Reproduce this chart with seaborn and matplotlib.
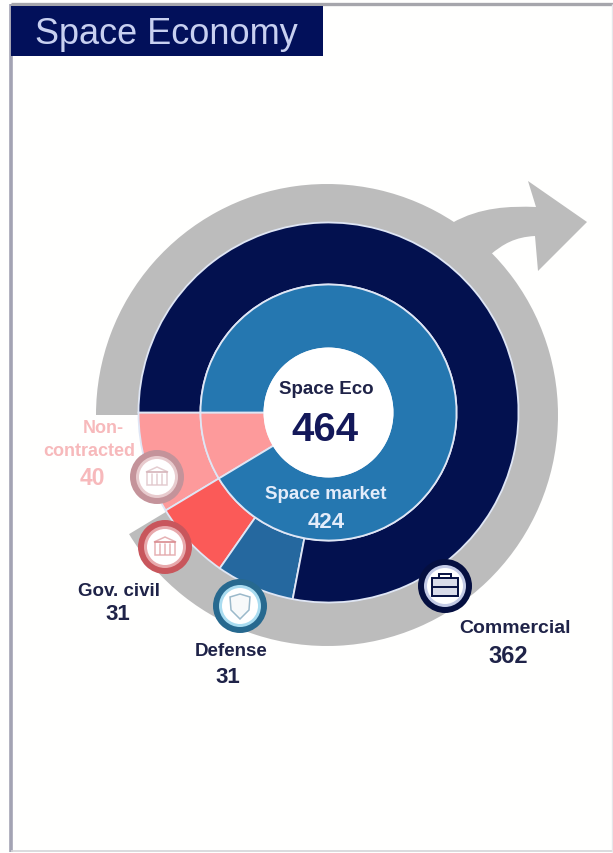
import matplotlib
matplotlib.use("Agg")
import matplotlib.pyplot as plt
import seaborn as sns
from matplotlib.patches import Circle, Polygon, PathPatch, Rectangle
from matplotlib.path import Path

sns.set_theme(style="white")
plt.rcParams["font.family"] = ["Liberation Sans", "DejaVu Sans"]

# Space economy breakdown
segments = ["Non-contracted", "Gov. civil", "Defense", "Commercial"]
segment_values = [40, 31, 31, 362]
market_names = ["Non-contracted", "Space market"]
market_values = [40, 424]
total_value = 464

PINK = "#fd9a9b"
RED = "#fb5a58"
STEEL = "#25689f"
BLUE = "#2577b0"
NAVY = "#03114f"
GREY = "#bcbcbc"
palette = sns.color_palette([PINK, RED, STEEL, NAVY])

W, H = 613, 854
fig = plt.figure(figsize=(W / 100, H / 100), dpi=100, facecolor="#fffffe")
ax = fig.add_axes([0, 0, 1, 1])
ax.set_axis_off()


def Y(py):
    return H - py


CX, CY = 328.5, Y(413.5)
edge = {"edgecolor": "#dfe6f5", "linewidth": 1.3}

# Frame around the panel
ax.plot([11, 11], [Y(5), Y(853)], color="#a3a3b3", lw=2.6, zorder=0, solid_capstyle="butt")
ax.plot([11, 613], [Y(5), Y(5)], color="#a6a6ac", lw=2.4, zorder=0, solid_capstyle="butt")
ax.plot([11, 613], [Y(852), Y(852)], color="#d4d4d8", lw=1.2, zorder=0, solid_capstyle="butt")
ax.plot([612, 612], [Y(5), Y(853)], color="#e6e6ea", lw=1.0, zorder=0, solid_capstyle="butt")
ax.add_patch(Rectangle((11, Y(57)), 312, 50, fc="#02105a", ec="none", zorder=1))
ax.text(166, Y(35), "Space Economy", color="#c8d0f0", fontsize=26, ha="center", va="center", zorder=2)

# Grey growth arc with its arrow, spanning the space market share
ax.pie(market_values, colors=["none", GREY], startangle=180, center=(327, Y(416)), radius=231,
       wedgeprops={"width": 44, "edgecolor": "none"}, frame=True)
shaft = Path(
    [(452, Y(224)), (480, Y(208)), (510, Y(207)), (536, Y(208)), (528, Y(182)), (587, Y(223)),
     (538, Y(272)), (535, Y(237)), (515, Y(238)), (503, Y(245)), (490, Y(256)), (452, Y(224))],
    [Path.MOVETO, Path.CURVE4, Path.CURVE4, Path.CURVE4, Path.LINETO, Path.LINETO,
     Path.LINETO, Path.LINETO, Path.CURVE4, Path.CURVE4, Path.CURVE4, Path.CLOSEPOLY],
)
ax.add_patch(PathPatch(shaft, fc=GREY, ec="none"))

# Outer segment ring
ax.pie(segment_values, colors=palette, startangle=180, center=(CX, CY), radius=190,
       wedgeprops={"width": 62, **edge}, frame=True)
# Inner market ring
ax.pie(market_values, colors=[PINK, BLUE], startangle=180, center=(CX, CY), radius=128,
       wedgeprops={"width": 64, **edge}, frame=True)
ax.add_patch(Circle((CX, CY), 65, fc="white", ec="none", zorder=3))

ax.set_xlim(0, W)
ax.set_ylim(0, H)
ax.set_aspect("equal")

DARK = "#1f2348"
SOFT = "#f7b9bb"


def label(x, y, s, size, color=DARK):
    ax.text(x, Y(y + 2), s, fontsize=size, fontweight="bold", color=color, ha="center", va="center", zorder=6)


label(326, 388, "Space Eco", 13.5)
label(325, 428, str(total_value), 29, "#14195a")
label(326, 493, "Space market", 13.5, "#e3ecfa")
label(326, 520, str(market_values[1]), 16, "#e3ecfa")
label(103, 427, "Non-", 13, SOFT)
label(89, 450, "contracted", 13, SOFT)
label(92, 477, str(segment_values[0]), 16.5, SOFT)
label(119, 590, segments[1], 13.5)
label(118, 613, str(segment_values[1]), 16)
label(231, 650, segments[2], 13.5)
label(228, 676, str(segment_values[2]), 16)
label(515.5, 627, segments[3], 14)
label(508, 655, str(segment_values[3]), 17)


def badge(x, y, ring, inner, kind, alpha=0.45):
    """Round badge with a small pictogram."""
    ax.add_patch(Circle((x, Y(y)), 27, fc=ring, ec="none", zorder=4))
    ax.add_patch(Circle((x, Y(y)), 21, fc=inner, ec="none", zorder=4))
    ax.add_patch(Circle((x, Y(y)), 18, fc="white", ec="none", zorder=4))
    c = ring
    if kind == "building":
        ax.add_patch(Rectangle((x - 10, Y(y) - 8), 20, 13, fc="none", ec=c, lw=1.1, alpha=alpha, zorder=5))
        ax.add_patch(Polygon([(x - 11, Y(y) + 5), (x, Y(y) + 10), (x + 11, Y(y) + 5)], fc="none", ec=c,
                             lw=1.1, alpha=alpha, zorder=5))
        for dx in (-5, 0, 5):
            ax.plot([x + dx, x + dx], [Y(y) - 7, Y(y) + 3], color=c, lw=1.1, alpha=alpha, zorder=5)
    elif kind == "shield":
        ax.add_patch(Polygon([(x - 10, Y(y) + 9), (x, Y(y) + 12), (x + 10, Y(y) + 9), (x + 9, Y(y) - 4),
                              (x, Y(y) - 13), (x - 9, Y(y) - 4)], fc="#eef2f4", ec=c, lw=1.1, alpha=alpha, zorder=5))
    else:
        ax.add_patch(Rectangle((x - 13, Y(y) - 10), 26, 18, fc="#d9dcea", ec=c, lw=1.4, zorder=5))
        ax.add_patch(Rectangle((x - 6, Y(y) + 8), 12, 4, fc="none", ec=c, lw=1.4, zorder=5))
        ax.plot([x - 13, x + 13], [Y(y) - 1, Y(y) - 1], color=c, lw=1.4, zorder=5)


badge(157, 478, "#c4939a", "#e8cbce", "building")
badge(165, 548, "#c8565c", "#e8a9ac", "building")
badge(240, 607, "#27698f", "#a9dcf0", "shield")
badge(445, 587, "#050f40", "#c4cbe6", "case")

fig.savefig("out.png", dpi=100, facecolor=fig.get_facecolor())
